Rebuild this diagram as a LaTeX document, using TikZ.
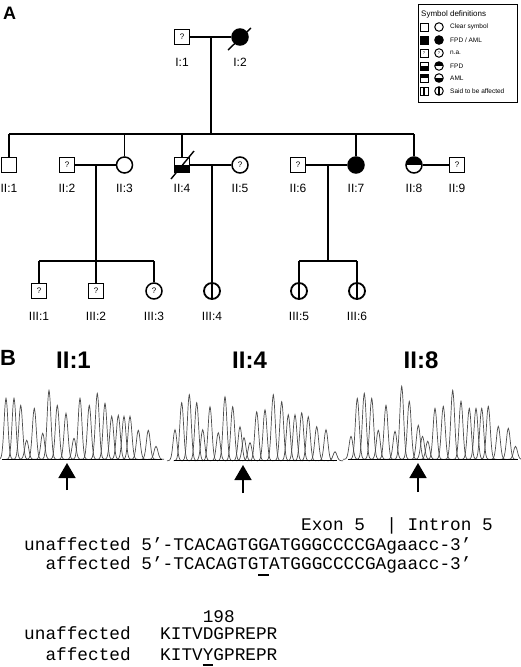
\documentclass[tikz,border=0pt]{standalone}
\usepackage{fontspec}
\setmainfont{Liberation Sans}
\newfontfamily\seqfont{Liberation Mono}
\usetikzlibrary{arrows.meta,calc}
\begin{document}
\begin{tikzpicture}[x=1pt,y=-1pt,
  male/.style={draw,line width=1.5pt,rectangle,minimum size=15pt,inner sep=0pt,font=\fontsize{8}{8}\selectfont},
  female/.style={draw,line width=1.5pt,circle,minimum size=16pt,inner sep=0pt,font=\fontsize{8}{8}\selectfont},
  smale/.style={draw,line width=1pt,rectangle,minimum size=8pt,inner sep=0pt,font=\fontsize{4}{4}\selectfont},
  sfemale/.style={draw,line width=1pt,circle,minimum size=8.5pt,inner sep=0pt,font=\fontsize{4}{4}\selectfont},
  botblack/.style={path picture={\fill[black] (path picture bounding box.west) rectangle (path picture bounding box.south east);}},
  topblack/.style={path picture={\fill[black] (path picture bounding box.north west) rectangle (path picture bounding box.east);}},
  said/.style={path picture={\draw[line width=#1] (path picture bounding box.north) -- (path picture bounding box.south);}},
  said/.default=2.6pt,
  lbl/.style={font=\fontsize{12}{12}\selectfont,anchor=base,inner sep=0pt},
  rel/.style={line width=1.4pt},
  legtxt/.style={font=\fontsize{6.5}{6.5}\selectfont,anchor=west,inner sep=0pt},
  panel/.style={font=\bfseries\fontsize{24}{24}\selectfont,anchor=base,inner sep=0pt},
  seq/.style={font=\seqfont\fontsize{17.75}{17.75}\selectfont,anchor=base west,inner sep=0pt},
  trace/.style={line width=0.7pt,black!70},
  baseln/.style={line width=0.9pt,black},
  mut/.style={line width=1.6pt,-{Triangle[width=17pt,length=15pt]}}
]
\useasboundingbox (0,0) rectangle (520,667);

% ---------- Panel A ----------
\node[font=\bfseries\fontsize{18}{18}\selectfont,anchor=base west,inner sep=0pt] (labA) at (3,19) {A};

% legend
\node[draw,line width=0.8pt,minimum width=99pt,minimum height=98pt,anchor=north west,inner sep=0pt] (legend) at (418,4) {};
\node[font=\fontsize{8}{8}\selectfont,anchor=west,inner sep=0pt] (legtitle) at (421,14) {Symbol definitions};
\node[smale] (ls1) at (424,27) {};
\node[sfemale] (lc1) at (439,27) {};
\node[legtxt] (lt1) at (450,27) {Clear symbol};
\node[smale,fill=black] (ls2) at (424,40) {};
\node[sfemale,fill=black] (lc2) at (439,40) {};
\node[legtxt] (lt2) at (450,40) {FPD / AML};
\node[smale] (ls3) at (424,53) {?};
\node[sfemale] (lc3) at (439,53) {?};
\node[legtxt] (lt3) at (450,53) {n.a.};
\node[smale,botblack] (ls4) at (424,66) {};
\node[sfemale,topblack] (lc4) at (439,66) {};
\node[legtxt] (lt4) at (450,66) {FPD};
\node[smale,topblack] (ls5) at (424,78) {};
\node[sfemale,botblack] (lc5) at (439,78) {};
\node[legtxt] (lt5) at (450,78) {AML};
\node[smale,said=1.6pt] (ls6) at (424,91) {};
\node[sfemale,said=1.6pt] (lc6) at (439,91) {};
\node[legtxt] (lt6) at (450,91) {Said to be affected};

% generation I
\node[male] (I1) at (182,37) {?};
\node[female,fill=black] (I2) at (240,37) {};
\draw[line width=1.4pt] ([shift={(-12,13)}]I2.center) -- ([shift={(11,-9)}]I2.center);
\node[lbl] (lI1) at (182,66) {I:1};
\node[lbl] (lI2) at (240,66) {I:2};
\draw[rel] (I1) -- (I2);
\coordinate (m1) at (211,37);
\coordinate (s2L) at (9,134);
\coordinate (s2R) at (414,134);
\draw[rel] (m1) -- (m1 |- s2L);
\draw[rel] (s2L) -- (s2R);

% generation II
\node[male] (II1) at (9,165) {};
\node[male] (II2) at (67,165) {?};
\node[female] (II3) at (124.5,165) {};
\node[male,botblack] (II4) at (182,165) {};
\draw[line width=1.4pt] ([shift={(-11,14)}]II4.center) -- ([shift={(12,-14)}]II4.center);
\node[female] (II5) at (240,165) {?};
\node[male] (II6) at (298,165) {?};
\node[female,fill=black] (II7) at (356,165) {};
\node[female,topblack] (II8) at (414,165) {};
\node[male] (II9) at (457,165) {?};
\foreach \n/\t in {II1/II:1,II2/II:2,II3/II:3,II4/II:4,II5/II:5,II6/II:6,II7/II:7,II8/II:8,II9/II:9}
  \node[lbl] (l\n) at (\n |- 0,192) {\t};
\foreach \n in {II1,II3,II4,II7,II8}
  \draw[rel] (\n |- s2L) -- (\n);
\draw[rel] (II2) -- (II3);
\draw[rel] (II4) -- (II5);
\draw[rel] (II6) -- (II7);
\draw[rel] (II8) -- (II9);
\coordinate (m2) at (96,165);
\coordinate (m3) at (212,165);
\coordinate (m4) at (328,165);

% generation III
\node[male] (III1) at (39,291) {?};
\node[male] (III2) at (96,291) {?};
\node[female] (III3) at (154,291) {?};
\node[female,said,line width=1.8pt] (III4) at (212,291) {};
\node[female,said,line width=1.8pt] (III5) at (299,291) {};
\node[female,said,line width=1.8pt] (III6) at (357,291) {};
\foreach \n/\t in {III1/III:1,III2/III:2,III3/III:3,III4/III:4,III5/III:5,III6/III:6}
  \node[lbl] (l\n) at (\n |- 0,320) {\t};
\coordinate (s3L) at (39,261);
\coordinate (s3R) at (154,261);
\coordinate (s4L) at (299,261);
\coordinate (s4R) at (357,261);
\draw[rel] (m2) -- (III2);
\draw[rel] (s3L) -- (s3R);
\draw[rel] (s3L) -- (III1);
\draw[rel] (s3R) -- (III3);
\draw[rel] (m3) -- (III4);
\draw[rel] (m4) -- (m4 |- s4L);
\draw[rel] (s4L) -- (s4R);
\draw[rel] (s4L) -- (III5);
\draw[rel] (s4R) -- (III6);

% ---------- Panel B ----------
\node[font=\bfseries\fontsize{22}{22}\selectfont,anchor=base west,inner sep=0pt] (labB) at (0,365) {B};
\node[panel] (tB1) at (73.5,368) {II:1};
\node[panel] (tB2) at (249.5,368) {II:4};
\node[panel] (tB3) at (421,368) {II:8};

% chromatograms
\foreach \c/\h in {6/61,14/61,20.7/54,26.7/19,34.3/51,42.7/26,49/69,57.3/54,66/46,74/21,80/61,89.3/54,97.3/66,105/56,111.7/43,118.3/44,124/43,130/43,138.3/29,148.3/29,156/13}{
  \pgfmathsetmacro\da{\c-8}\pgfmathsetmacro\db{\c+8}
  \draw[trace] plot[domain=\da:\db,samples=17,smooth] (\x,{459.3-\h*exp(0-((\x-\c)*(\x-\c))/7.3)});
}
\draw[baseln] (2,459.3) -- (162,459.3);
\foreach \c/\h in {175/31,181.7/58,189.3/66,196.7/58,202.7/31,210/54,218.3/28,225/64,232.7/54,240/34,244/23,250/18,256.7/49,265/51,273.3/66,281.7/59,288.3/46,295/46,301.7/48,308.3/44,316.7/34,326/31,335/9}{
  \pgfmathsetmacro\da{\c-8}\pgfmathsetmacro\db{\c+8}
  \draw[trace] plot[domain=\da:\db,samples=17,smooth] (\x,{460.7-\h*exp(0-((\x-\c)*(\x-\c))/7.3)});
}
\draw[baseln] (174,460.7) -- (337,460.7);
\foreach \c/\h in {351/23,357.3/61,364.3/66,371.7/61,378.3/29,386/54,395/28,401.7/73,409.3/58,418.3/34,422.5/23,427.7/18,435/51,443.3/53,452.7/69,461/58,469.3/51,476/51,481.7/51,488.3/53,498.3/33,508.3/31,515.5/13}{
  \pgfmathsetmacro\da{\c-8}\pgfmathsetmacro\db{\c+8}
  \draw[trace] plot[domain=\da:\db,samples=17,smooth] (\x,{459.3-\h*exp(0-((\x-\c)*(\x-\c))/7.3)});
}
\draw[baseln] (348,459.3) -- (518,459.3);

% arrows
\coordinate (a1t) at (67,490);  \coordinate (a1h) at (67,463);
\coordinate (a2t) at (243,493); \coordinate (a2h) at (243,465);
\coordinate (a3t) at (418,492); \coordinate (a3h) at (418,463);
\draw[mut] (a1t) -- (a1h);
\draw[mut] (a2t) -- (a2h);
\draw[mut] (a3t) -- (a3h);

% sequences (char width 10.65pt, origin x=24)
\node[seq] (exon) at (300.9,530) {Exon 5};
\node[seq] (bar) at (386.1,530) {|};
\node[seq] (intron) at (407.4,530) {Intron 5};
\node[seq] (dnaU) at (24,550) {unaffected 5’-TCACAGTGGATGGGCCCCGAgaacc-3’};
\node[seq] (dnaA) at (45.3,569) {affected 5’-TCACAGTGTATGGGCCCCGAgaacc-3’};
\draw[line width=1.2pt] (258.3,575) -- (268.9,575);

\node[seq] (num) at (202.6,622) {198};
\node[seq] (protU) at (24,639) {unaffected};
\node[seq] (seqU) at (160,639) {KITVDGPREPR};
\node[seq] (protA) at (45.3,660) {affected};
\node[seq] (seqA) at (160,660) {KITVYGPREPR};
\draw[line width=1.2pt] (202.6,665) -- (213.2,665);
\end{tikzpicture}
\end{document}
